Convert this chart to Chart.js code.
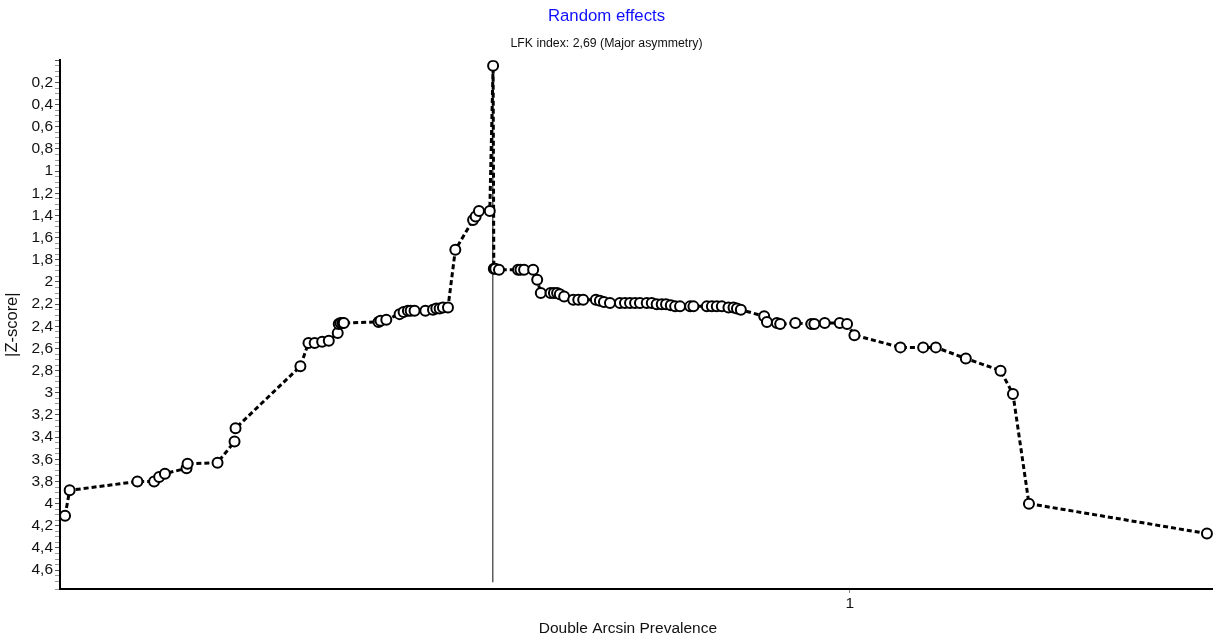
<!DOCTYPE html>
<html>
<head>
<meta charset="utf-8">
<title>Doi plot</title>
<script src="https://cdn.jsdelivr.net/npm/chart.js@4"></script>
<style>
  html, body { margin: 0; padding: 0; background: #fff; }
  #doi { display: block; }
</style>
</head>
<body>
<canvas id="doi" width="1213" height="641"></canvas>
<script>
// study estimates, sorted by prevalence (double arcsine scale)
const prevalence = [
  0.4555, 0.4587, 0.5057, 0.5173, 0.5208, 0.5248, 0.5398, 0.5405, 0.5613, 0.5731,
  0.5738, 0.6188, 0.6244, 0.6287, 0.6339, 0.6385, 0.6447, 0.6454, 0.6466, 0.6480,
  0.6489, 0.6730, 0.6744, 0.6784, 0.6876, 0.6904, 0.6934, 0.6953, 0.6980, 0.7055,
  0.7108, 0.7131, 0.7154, 0.7177, 0.7212, 0.7263, 0.7386, 0.7404, 0.7427, 0.7502,
  0.7525, 0.7530, 0.7540, 0.7566, 0.7698, 0.7715, 0.7740, 0.7803, 0.7831, 0.7856,
  0.7924, 0.7947, 0.7969, 0.7988, 0.8018, 0.8081, 0.8116, 0.8150, 0.8238, 0.8266,
  0.8294, 0.8336, 0.8405, 0.8440, 0.8475, 0.8510, 0.8544, 0.8591, 0.8626, 0.8660,
  0.8695, 0.8725, 0.8758, 0.8788, 0.8822, 0.8892, 0.8915, 0.9008, 0.9043, 0.9077,
  0.9112, 0.9158, 0.9193, 0.9217, 0.9244, 0.9406, 0.9425, 0.9494, 0.9517, 0.9622,
  0.9733, 0.9754, 0.9826, 0.9930, 0.9981, 1.0032, 1.0351, 1.0509, 1.0597, 1.0805,
  1.1046, 1.1132, 1.1243, 1.2478
];
const zScores = [
  4.11, 3.88, 3.80, 3.80, 3.76, 3.73, 3.68, 3.64, 3.63, 3.44,
  3.32, 2.76, 2.55, 2.55, 2.54, 2.53, 2.46, 2.38, 2.37, 2.37,
  2.37, 2.36, 2.35, 2.34, 2.29, 2.27, 2.26, 2.26, 2.26, 2.26,
  2.25, 2.24, 2.24, 2.23, 2.23, 1.71, 1.44, 1.41, 1.36, 1.36,
  0.05, 1.88, 1.88, 1.89, 1.89, 1.89, 1.89, 1.89, 1.98, 2.10,
  2.10, 2.10, 2.10, 2.11, 2.13, 2.16, 2.16, 2.16, 2.16, 2.17,
  2.18, 2.19, 2.19, 2.19, 2.19, 2.19, 2.19, 2.19, 2.19, 2.20,
  2.20, 2.20, 2.21, 2.22, 2.22, 2.22, 2.22, 2.22, 2.22, 2.22,
  2.22, 2.23, 2.23, 2.24, 2.25, 2.31, 2.36, 2.37, 2.38, 2.37,
  2.38, 2.38, 2.37, 2.37, 2.38, 2.48, 2.59, 2.59, 2.59, 2.69,
  2.80, 3.01, 4.00, 4.27
];
// reference line at the pooled estimate
const pooledX = 0.7523;
const refLineZ = [0, 4.71];
const xTicks = [1];

const FONT = 'Arial, "Liberation Sans", sans-serif';
const comma = v => String(v).replace('.', ',');

new Chart(document.getElementById('doi'), {
  type: 'line',
  data: {
    datasets: [
      {
        data: prevalence.map((x, i) => ({ x: x, y: zScores[i] })),
        borderColor: '#000',
        borderWidth: 3,
        borderDash: [5, 3],
        pointRadius: 5,
        pointBorderWidth: 2,
        pointBackgroundColor: '#fff',
        pointBorderColor: '#000',
        tension: 0,
        order: 1
      },
      {
        data: refLineZ.map(z => ({ x: pooledX, y: z })),
        borderColor: '#333',
        borderWidth: 1.2,
        pointRadius: 0,
        order: 2
      }
    ]
  },
  options: {
    responsive: false,
    animation: false,
    layout: { autoPadding: false, padding: 0 },
    plugins: {
      legend: { display: false },
      tooltip: { enabled: false },
      title: {
        display: true,
        text: 'Random effects',
        color: '#1010ff',
        font: { family: FONT, size: 16.8, weight: 'normal' },
        padding: { top: 6, bottom: 6 }
      },
      subtitle: {
        display: true,
        text: 'LFK index: 2,69 (Major asymmetry)',
        color: '#111',
        font: { family: FONT, size: 12.3 },
        padding: { top: 4, bottom: 9.4 }
      }
    },
    scales: {
      x: {
        type: 'linear',
        min: 0.452,
        max: 1.252,
        afterBuildTicks: scale => { scale.ticks = xTicks.map(v => ({ value: v })); },
        afterFit: scale => { scale.height = 52; },
        border: { color: '#000', width: 2 },
        grid: { drawOnChartArea: false, tickLength: 4, tickColor: '#888' },
        ticks: {
          color: '#111',
          padding: 1,
          font: { family: FONT, size: 15.5 },
          callback: v => comma(v)
        },
        title: {
          display: true,
          // trailing spaces nudge the centred label a little to the left
          text: 'Double Arcsin Prevalence    ',
          color: '#111',
          font: { family: FONT, size: 15.5 },
          padding: { top: 0, bottom: 3 }
        }
      },
      y: {
        type: 'linear',
        reverse: true,
        min: 0,
        max: 4.77,
        afterFit: scale => { scale.width = 60; },
        border: { color: '#000', width: 2 },
        grid: {
          drawOnChartArea: false,
          tickLength: 5,
          tickColor: ctx => (Math.round(ctx.tick.value * 100) % 20 === 0 ? '#555' : '#999')
        },
        ticks: {
          stepSize: 0.05,
          autoSkip: false,
          maxTicksLimit: 200,
          padding: 2,
          color: '#111',
          font: { family: FONT, size: 15.5 },
          callback: v => {
            const h = Math.round(v * 100);
            if (h === 0 || h % 20 !== 0) return '';
            return comma(h / 100);
          }
        },
        title: {
          display: true,
          text: '|Z-score|',
          color: '#111',
          font: { family: FONT, size: 16.5 },
          padding: { top: 3, bottom: 0 }
        }
      }
    }
  }
});
</script>
</body>
</html>
